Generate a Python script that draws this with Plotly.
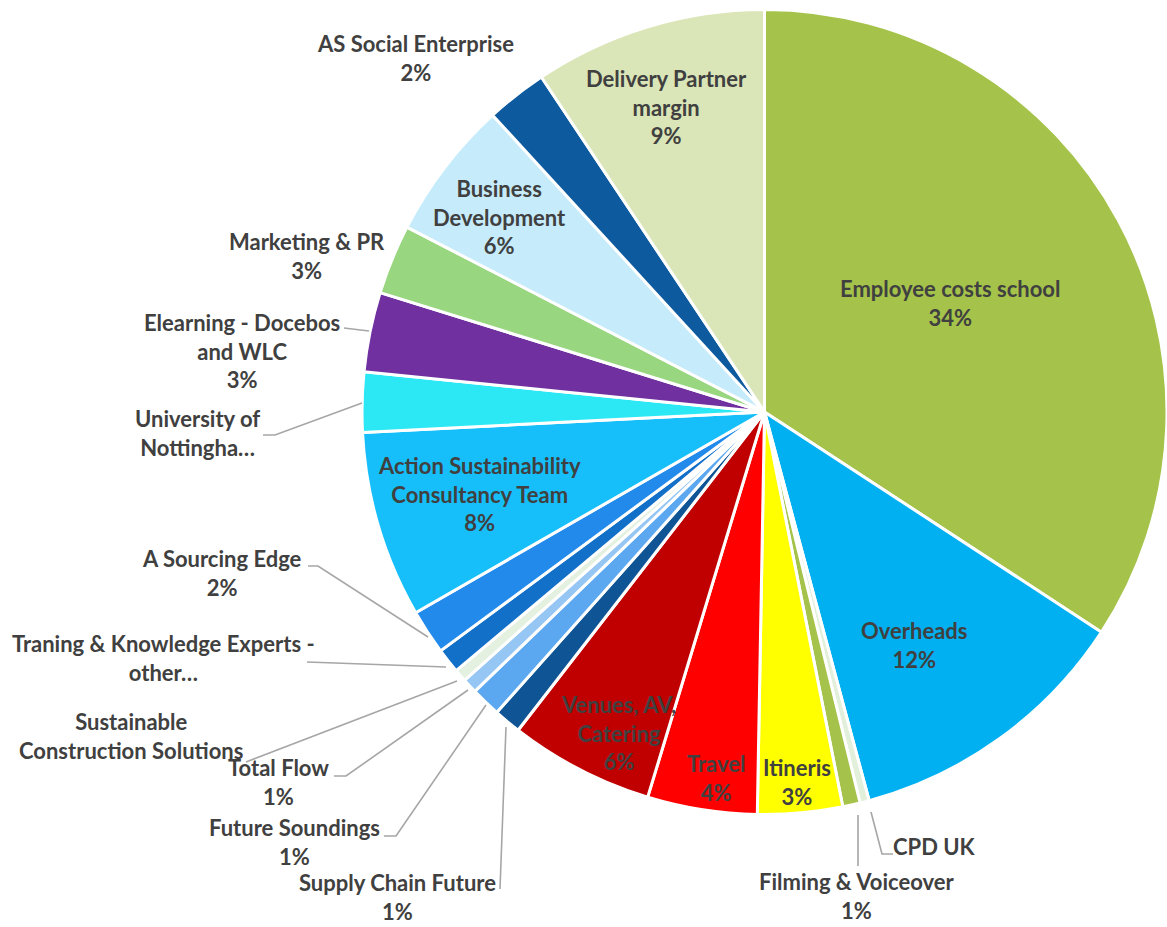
import plotly.graph_objects as go

W, H = 1167, 927

# slices, clockwise from 12 o'clock
names = [
    "Employee costs school", "Overheads", "CPD UK", "Filming & Voiceover",
    "Itineris", "Travel", "Venues, AV, Catering", "Supply Chain Future",
    "Future Soundings", "Total Flow", "Sustainable Construction Solutions",
    "Traning & Knowledge Experts - other", "A Sourcing Edge",
    "Action Sustainability Consultancy Team", "University of Nottingham",
    "Elearning - Docebos and WLC", "Marketing & PR", "Business Development",
    "AS Social Enterprise", "Delivery Partner margin",
]
values = [34.2, 11.6, 0.37, 0.7, 3.4, 4.4, 5.8, 1.1, 1.2, 0.6, 0.5, 1.0,
          1.8, 7.5, 2.4, 3.2, 2.8, 5.6, 2.45, 9.35]
# label text as drawn on the chart (Excel wrapped / truncated some)
label_text = [
    "Employee costs school", "Overheads", "CPD UK", "Filming & Voiceover",
    "Itineris", "Travel", "Venues, AV,<br>Catering", "Supply Chain Future",
    "Future Soundings", "Total Flow", "Sustainable<br>Construction Solutions",
    "Traning & Knowledge Experts -<br>other…", "A Sourcing Edge",
    "Action Sustainability<br>Consultancy Team", "University of<br>Nottingha…",
    "Elearning - Docebos<br>and WLC", "Marketing & PR", "Business<br>Development",
    "AS Social Enterprise", "Delivery Partner<br>margin",
]
show_pct = [True, True, False, True, True, True, True, True, True, True,
            False, False, True, True, False, True, True, True, True, True]
colors = [
    "#A5C34A", "#00B0F0", "#E2EFDA", "#A5C34A", "#FFFF00", "#FF0000",
    "#C00000", "#0F5596", "#5BA8F0", "#95C6F4", "#E4F1E0", "#1270C8",
    "#228AEB", "#17BFFA", "#2CE8F4", "#7030A0", "#98D680", "#C6ECFC",
    "#0E5A9E", "#DAE6B7",
]

# label centres in pixels
label_pos = [
    (950, 303), (914, 645), (934, 846), (857, 896), (797, 782), (716, 778),
    (618, 733), (397, 897), (294, 842), (278, 782), (131, 736), (163, 658),
    (222, 573), (479, 494), (197, 433), (242, 351), (307, 256), (499, 217),
    (415, 58), (666, 107),
]
# leader lines in pixels
leaders = [
    [(893, 854), (882, 854), (871, 812)],
    [(858, 866), (858, 815)],
    [(500, 889), (506, 727)],
    [(384, 836), (396, 836), (486, 705)],
    [(334, 776), (346, 776), (468, 690)],
    [(246, 762), (457, 681)],
    [(307, 662), (446, 667)],
    [(308, 566), (318, 566), (428, 637)],
    [(263, 435), (275, 435), (362, 403)],
    [(344, 328), (369, 331)],
]


def px(x, y):
    return x / W, 1 - y / H


total = sum(values)
texts = []
for t, v, s in zip(label_text, values, show_pct):
    if s:
        t = t + "<br>" + str(round(v / total * 100)) + "%"
    texts.append(t)

fig = go.Figure()
fig.add_trace(go.Pie(
    labels=names,
    values=values,
    sort=False,
    direction="clockwise",
    rotation=0,
    textinfo="none",
    hoverinfo="label+percent",
    marker=dict(colors=colors, line=dict(color="white", width=3)),
    domain=dict(x=[362 / W, 1], y=[1 - 820 / H, 1 - 4 / H]),
    showlegend=False,
))

for pts in leaders:
    path = ""
    for i, (x, y) in enumerate(pts):
        a, b = px(x, y)
        path += ("M" if i == 0 else " L") + " %.5f,%.5f" % (a, b)
    fig.add_shape(type="path", path=path, xref="paper", yref="paper",
                  line=dict(color="#A6A6A6", width=1.6))

for t, (x, y) in zip(texts, label_pos):
    a, b = px(x, y)
    fig.add_annotation(
        x=a, y=b, xref="paper", yref="paper", text=t, showarrow=False,
        xanchor="center", yanchor="middle", align="center",
        font=dict(family="Lato", size=22, color="#404040", weight="bold"),
    )

fig.update_layout(
    width=W, height=H,
    margin=dict(l=0, r=0, t=0, b=0),
    paper_bgcolor="white",
    plot_bgcolor="white",
    showlegend=False,
)

# the page body has a default 8px margin; drop it so the chart fills the window
fig.write_html("out.html", config={"displayModeBar": False},
               post_script="document.body.style.margin='0';")
